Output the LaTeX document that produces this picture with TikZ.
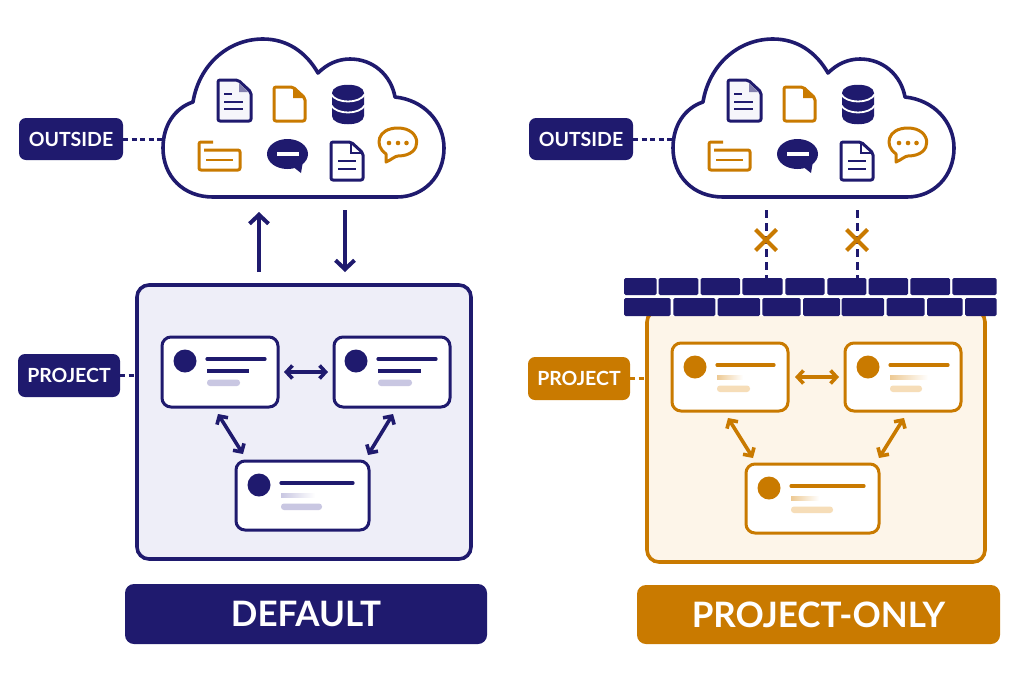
\documentclass[tikz,border=0pt]{standalone}
\usepackage{fontspec}
\setmainfont{Lato}
\usetikzlibrary{arrows.meta}
\definecolor{navy}{HTML}{1F1A6E}
\definecolor{ochre}{HTML}{C97A00}
\definecolor{navylight}{HTML}{C9C7E2}
\definecolor{ochrelight}{HTML}{F6DDB8}
\definecolor{navybg}{HTML}{EEEEF8}
\definecolor{ochrebg}{HTML}{FDF5E9}
\tikzset{
 tag/.style={rounded corners=7pt,fill=#1,text=white,font=\bfseries\fontsize{19.5}{19.5}\selectfont,inner sep=0pt,outer sep=0pt,minimum height=42pt,minimum width=104pt},
 banner/.style={rounded corners=9pt,fill=#1,text=white,font=\bfseries\fontsize{35}{35}\selectfont,inner sep=0pt,outer sep=0pt,minimum height=60pt,minimum width=362pt},
 panel/.style={rounded corners=12pt,draw=#1,line width=3.6pt,inner sep=0pt,outer sep=0pt},
 cardbox/.style={rounded corners=9pt,draw=#1,fill=white,line width=3pt,inner sep=0pt,outer sep=0pt},
 dashlink/.style={draw=#1,line width=3pt,dash pattern=on 5pt off 3.5pt},
 both/.style={draw=#1,line width=3.6pt,{Straight Barb[length=6pt,width=13pt,line width=3.6pt]}-{Straight Barb[length=6pt,width=13pt,line width=3.6pt]}},
 flow/.style={draw=navy,line width=4pt,-{Straight Barb[length=9pt,width=19pt,line width=4pt]}},
 iconN/.style={draw=navy,line width=3pt,line join=round,rounded corners=2pt},
 iconO/.style={draw=ochre,line width=3pt,line join=round,rounded corners=2pt},
 barN/.style={draw=navy,line width=2.8pt},
 barO/.style={draw=ochre,line width=2.8pt},
 solidN/.style={fill=navy},
 fadeN/.style={left color=navylight,right color=white},
 solidO/.style={fill=ochrelight},
 fadeO/.style={left color=ochrelight!80!ochre,right color=white},
}
\newcommand{\cloudgroup}[2]{%
 \begin{scope}[shift={(#2,0)}]
  \draw[navy,line width=3.6pt,fill=white,line join=round]
   (213,197) .. controls (183,197) and (163,176) .. (163,148)
   .. controls (163,125) and (175,108) .. (193,102)
   .. controls (199,65) and (228,39) .. (263,39)
   .. controls (287,39) and (306,52) .. (318,73)
   .. controls (327,64) and (338,59) .. (350,59)
   .. controls (373,59) and (391,75) .. (395,97)
   .. controls (424,100) and (444,122) .. (444,148)
   .. controls (444,176) and (424,197) .. (397,197) -- cycle;
  \coordinate (#1cw) at (163,139);
  \node[tag=navy] (#1out) at (71,139) {OUTSIDE};
  \draw[dashlink=navy] (#1out.east) -- (#1cw);
  % document 1
  \draw[iconN,fill=navybg!50!white] (238,80) -- (218,80) -- (218,121) -- (251,121) -- (251,92) -- cycle;
  \fill[navy!55!white] (239,83) -- (248,92) -- (239,92) -- cycle;
  \draw[barN] (224,94) -- (232,94) (224,102) -- (243,102) (224,109) -- (243,109);
  % orange document
  \draw[iconO] (293,87) -- (274,87) -- (274,121) -- (305,121) -- (305,98) -- cycle;
  \fill[ochre] (293,87) -- (305,98) -- (293,98) -- cycle;
  % database
  \fill[navy] (332,93) .. controls (332,82) and (364,82) .. (364,93) -- (364,116) .. controls (364,127) and (332,127) .. (332,116) -- cycle;
  \draw[white,line width=1.8pt] (331,94) .. controls (336,104) and (360,104) .. (365,94);
  \draw[white,line width=1.8pt] (331,105) .. controls (336,115) and (360,115) .. (365,105);
  % folder
  \draw[iconO] (213,142) -- (199,142) -- (199,170) -- (240,170) -- (240,150) -- (204,150);
  \draw[barO] (206,160) -- (233,160);
  % dark speech bubble
  \fill[navy] (287.5,154) ellipse [x radius=20.5pt,y radius=15pt];
  \fill[navy,line join=round] (292,166) -- (301,173) -- (303,161) -- cycle;
  \draw[white,line width=3.2pt] (277,154) -- (299,154);
  % document 2
  \draw[iconN] (351,142) -- (331,142) -- (331,180) -- (363,180) -- (363,153) -- cycle;
  \draw[navy,line width=2.4pt] (351,142) -- (351,153) -- (363,153);
  \draw[barN] (338,161) -- (356,161) (338,169) -- (356,169);
  % orange speech bubble
  \draw[ochre,line width=3pt,line join=round] (386,154) .. controls (374,146) and (377,128) .. (398,128) .. controls (422,128) and (424,156) .. (398,156) .. controls (395,156) and (391,160) .. (386,162) -- cycle;
  \fill[ochre] (389,143) circle[radius=2.3pt] (398,143) circle[radius=2.3pt] (406.5,143) circle[radius=2.3pt];
 \end{scope}}
\newcommand{\cardmarks}[8]{%
 \begin{scope}[shift={(#1.north west)}]
  \fill[#2] (23+#8,24) circle[radius=11.5pt];
  \draw[#2,line width=3.2pt,line cap=round] (45+#8,22) -- (#4,22);
  \fill[#5] (45+#8,32) rectangle (#6,36);
  \fill[#3,rounded corners=3pt] (45+#8,42.5) rectangle (#7,49);
 \end{scope}}
\begin{document}
\begin{tikzpicture}[x=1pt,y=-1pt]
\useasboundingbox (0,0) rectangle (1024,683);
\fill[white] (0,0) rectangle (1024,683);
\cloudgroup{L}{0}
\cloudgroup{R}{510}
% left: default
\node[panel=navy,fill=navybg,minimum width=334pt,minimum height=274pt] (boxL) at (304,422) {};
\coordinate (upA) at (259,272); \coordinate (upB) at (259,212);
\coordinate (downA) at (345,210); \coordinate (downB) at (345,272);
\draw[flow] (upA) -- (upB);
\draw[flow] (downA) -- (downB);
\node[tag=navy,minimum width=102pt,minimum height=43pt] (projL) at (69,375.5) {PROJECT};
\draw[dashlink=navy] (projL.east) -- (projL.east -| boxL.west);
\node[cardbox=navy,minimum width=116pt,minimum height=70pt] (a1) at (220,372) {};
\node[cardbox=navy,minimum width=116pt,minimum height=70pt] (a2) at (392,372) {};
\node[cardbox=navy,minimum width=133pt,minimum height=69pt] (a3) at (302.5,495.5) {};
\cardmarks{a1}{navy}{navylight}{103}{solidN}{87}{78}{0}
\cardmarks{a2}{navy}{navylight}{102}{solidN}{87}{78}{-1}
\cardmarks{a3}{navy}{navylight}{117}{fadeN}{79}{86}{0}
\draw[both=navy,shorten <=6pt,shorten >=6pt] (a1.east) -- (a2.west);
\draw[both=navy] ([shift={(-2,7)}]a1.south) -- ([shift={(7,-7)}]a3.north west);
\draw[both=navy] ([shift={(1,7)}]a2.south) -- ([shift={(-1,-6)}]a3.north east);
\node[banner=navy] (bannerL) at (306,614) {DEFAULT};
% right: project-only
\node[panel=ochre,fill=ochrebg,minimum width=338pt,minimum height=252pt] (boxR) at (816,436) {};
\fill[white] (624,278) rectangle (997,316);
\foreach \a/\b in {342/440,446/565,572/690,697/818,826/944,952/1069,1076/1194,1201/1320,1327/1460}
 \fill[navy,rounded corners=1.5pt] ({510+\a/3},278) rectangle ({510+\b/3},295);
\foreach \a/\b in {342/482,490/616,623/750,757/872,879/990,995/1122,1130/1244,1251/1358,1365/1460}
 \fill[navy,rounded corners=1.5pt] ({510+\a/3},298) rectangle ({510+\b/3},316);
\coordinate (cutAt) at (766,210); \coordinate (cutAb) at (766,278);
\coordinate (cutBt) at (857,210); \coordinate (cutBb) at (857,278);
\draw[navy,line width=3pt,dash pattern=on 8pt off 5pt] (cutAt) -- (cutAb);
\draw[navy,line width=3pt,dash pattern=on 8pt off 5pt] (cutBt) -- (cutBb);
\foreach \cx in {766,857}
 \draw[ochre,line width=4pt] (\cx-10.5,229.5) -- (\cx+10.5,250.5) (\cx-10.5,250.5) -- (\cx+10.5,229.5);
\node[tag=ochre,minimum width=102pt,minimum height=43pt] (projR) at (579,378.5) {PROJECT};
\draw[dashlink=ochre] (projR.east) -- (projR.east -| boxR.west);
\node[cardbox=ochre,minimum width=116pt,minimum height=68pt] (b1) at (730,377) {};
\node[cardbox=ochre,minimum width=116pt,minimum height=68pt] (b2) at (903,377) {};
\node[cardbox=ochre,minimum width=133pt,minimum height=69pt] (b3) at (812.5,498.5) {};
\cardmarks{b1}{ochre}{ochrelight}{102}{fadeO}{71}{78}{0}
\cardmarks{b2}{ochre}{ochrelight}{103}{fadeO}{83}{77}{0}
\cardmarks{b3}{ochre}{ochrelight}{118}{fadeO}{73}{87}{0}
\draw[both=ochre,shorten <=7pt,shorten >=6pt] (b1.east) -- (b2.west);
\draw[both=ochre] ([shift={(-2,7)}]b1.south) -- ([shift={(7,-6)}]b3.north west);
\draw[both=ochre] ([shift={(1,7)}]b2.south) -- ([shift={(0,-6)}]b3.north east);
\node[banner=ochre,minimum width=363pt,minimum height=59pt] (bannerR) at (818.5,614.5) {PROJECT-ONLY};
\end{tikzpicture}
\end{document}
